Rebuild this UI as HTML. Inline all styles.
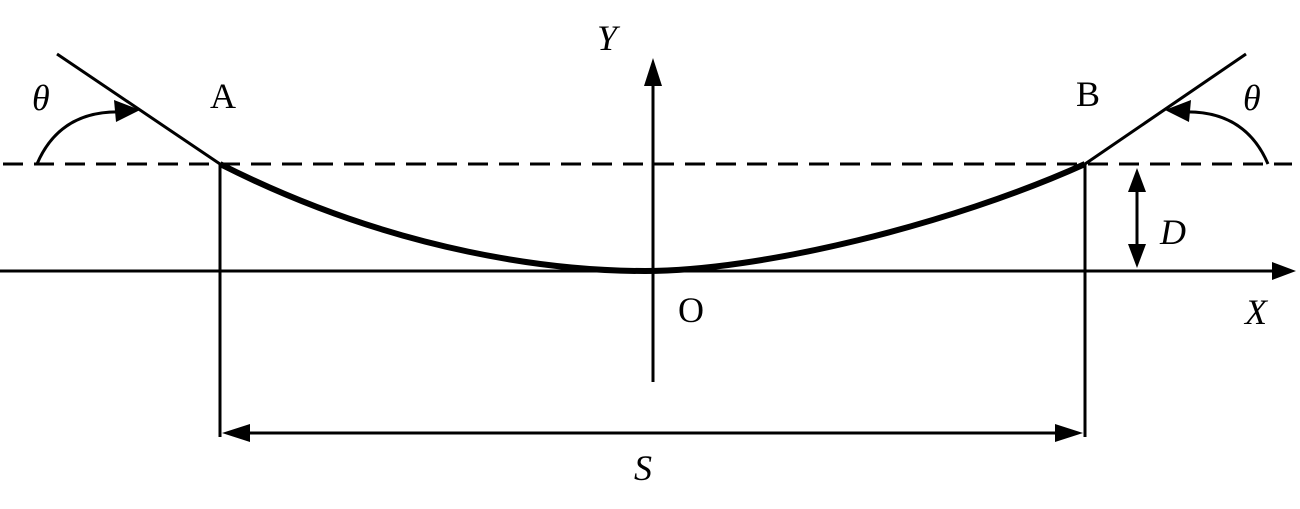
<!DOCTYPE html>
<html><head><style>
html,body{margin:0;padding:0;background:#fff;}
svg{display:block;}
text{font-family:"Liberation Serif",serif;font-size:36px;fill:#000;}
</style></head><body>
<svg width="1300" height="509" viewBox="0 0 1300 509" xmlns="http://www.w3.org/2000/svg">
<defs>
<marker id="ar" markerWidth="10" markerHeight="8" refX="9" refY="4" orient="auto" markerUnits="userSpaceOnUse" viewBox="0 0 10 8">
</marker>
</defs>
<g stroke="#000" stroke-width="3" fill="none">
<line x1="3" y1="164" x2="1292" y2="164" stroke-dasharray="20,11"/>
<line x1="0" y1="271" x2="1280" y2="271"/>
<line x1="653" y1="75" x2="653" y2="382"/>
<line x1="57" y1="54" x2="220" y2="164"/>
<line x1="1085" y1="164" x2="1246" y2="54"/>
<line x1="220" y1="164" x2="220" y2="437"/>
<line x1="1085" y1="164" x2="1085" y2="437"/>
<line x1="240" y1="433" x2="1065" y2="433"/>
<line x1="1137" y1="185" x2="1137" y2="250"/>
<path d="M37,164 Q60,110 122,112"/>
<path d="M1268,164 Q1245,110 1183,112"/>
<path d="M220,164 C400,255 560,271 645,271 C760,271 950,225 1085,164" stroke-width="6"/>
</g>
<g fill="#000">
<polygon points="1296,271 1272,262 1272,280"/>
<polygon points="653,58 644,86 662,86"/>
<polygon points="222,433 250,424 250,442"/>
<polygon points="1083,433 1055,424 1055,442"/>
<polygon points="1137,168 1128,192 1146,192"/>
<polygon points="1137,268 1128,244 1146,244"/>
<polygon points="140,110 114,100 116,122"/>
<polygon points="1165,110 1191,100 1189,122"/>
</g>
<text x="32" y="110" font-style="italic">θ</text>
<text x="1243" y="110" font-style="italic">θ</text>
<text x="210" y="108">A</text>
<text x="1076" y="106">B</text>
<text x="597" y="50" font-style="italic">Y</text>
<text x="678" y="322">O</text>
<text x="1245" y="324" font-style="italic">X</text>
<text x="1160" y="244" font-style="italic">D</text>
<text x="634" y="480" font-style="italic">S</text>
</svg>
</body></html>
